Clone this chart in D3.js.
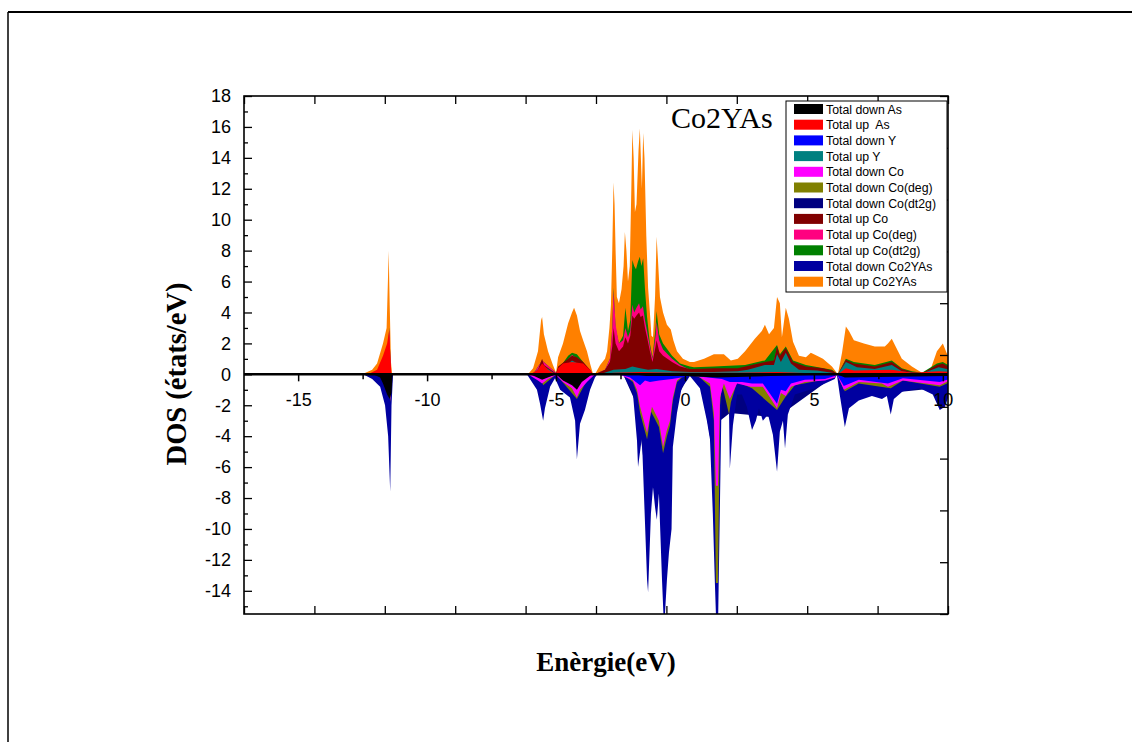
<!DOCTYPE html>
<html>
<head>
<meta charset="utf-8">
<script src="https://cdn.jsdelivr.net/npm/d3@7"></script>
<style>
  html, body { margin: 0; padding: 0; background: #fff; }
  svg { display: block; }
  .legend-text { font-family: "Liberation Sans", Arial, sans-serif; font-size: 12.3px; fill: #000; white-space: pre; }
</style>
</head>
<body>
<svg id="chart" width="1132" height="742"></svg>
<script>
// Spin-resolved partial densities of states of Co2YAs, as [energy (eV), DOS (states/eV)] pairs.

const upCo2YAs = [
  [-12.52,0],[-12.13,0.3],[-11.94,0.7],[-11.71,2.0],[-11.57,3.0],[-11.52,6.0],[-11.49,8.0],[-11.45,4.5],[-11.40,0.8],[-11.36,0],
  [-6.09,0],[-5.89,0.4],[-5.70,1.5],[-5.58,3.5],[-5.54,3.7],[-5.47,2.6],[-5.31,1.5],[-5.12,0.6],[-5.00,0.1],[-4.92,1.1],
  [-4.73,2.0],[-4.53,3.3],[-4.38,4.0],[-4.30,4.3],[-4.19,3.8],[-4.07,2.8],[-3.95,2.2],[-3.80,1.5],[-3.68,0.7],[-3.57,0.05],[-3.49,0],
  [-3.29,0.6],[-3.10,1.0],[-3.02,1.5],[-2.93,3.0],[-2.87,4.5],[-2.82,8.0],[-2.77,12.4],[-2.73,11.0],[-2.69,8.0],[-2.64,5.0],
  [-2.56,4.6],[-2.46,5.5],[-2.38,7.0],[-2.33,9.2],[-2.27,8.0],[-2.21,6.0],[-2.14,7.0],[-2.08,12.0],[-2.04,15.8],[-1.99,14.0],
  [-1.94,10.5],[-1.88,11.0],[-1.80,14.5],[-1.75,15.9],[-1.71,14.0],[-1.67,12.0],[-1.62,15.6],[-1.57,14.0],[-1.50,9.0],
  [-1.43,5.6],[-1.36,4.0],[-1.30,2.5],[-1.24,2.4],[-1.16,5.0],[-1.10,8.9],[-1.05,7.5],[-0.97,5.0],[-0.85,4.0],[-0.70,3.2],
  [-0.55,2.9],[-0.45,2.2],[-0.31,1.5],[-0.08,1.0],[0.19,0.8],[0.35,0.8],[0.74,1.0],[1.12,1.3],[1.51,1.3],[1.78,0.9],
  [2.05,1.0],[2.33,1.5],[2.71,2.3],[2.98,2.8],[3.10,3.2],[3.26,2.6],[3.45,3.0],[3.57,5.0],[3.68,4.6],[3.76,2.4],
  [3.91,4.3],[4.03,3.6],[4.19,2.1],[4.42,1.2],[4.69,1.1],[4.88,1.4],[5.12,1.2],[5.35,1.0],[5.70,0.5],[5.93,0],
  [6.09,1.4],[6.24,3.1],[6.36,2.8],[6.55,2.2],[6.94,2.0],[7.36,1.8],[7.75,1.8],[7.87,2.0],[8.02,2.3],[8.14,1.9],
  [8.41,1.0],[8.80,0.5],[9.19,0.1],[9.53,0.35],[9.77,1.5],[10.00,2.0],[10.19,1.2],[10.30,1.0]
];

const upCoDt2g = [
  [-11.55,0],[-11.47,3.05],[-11.40,0],
  [-5.89,0],[-5.54,0.9],[-5.00,0.1],[-4.53,1.2],[-4.38,1.4],[-4.19,1.3],[-3.95,0.8],[-3.57,0],
  [-3.49,0],[-3.10,0.3],[-2.91,1.0],[-2.82,3.0],[-2.77,5.6],[-2.69,3.0],[-2.56,2.0],[-2.40,2.5],[-2.31,4.3],[-2.21,2.8],
  [-2.12,3.5],[-2.08,5.5],[-2.04,7.4],[-1.97,7.0],[-1.90,6.8],[-1.82,7.3],[-1.75,7.6],[-1.69,7.0],[-1.62,7.5],[-1.55,5.5],
  [-1.47,3.7],[-1.36,2.0],[-1.26,1.1],[-1.14,3.0],[-1.10,4.1],[-1.00,2.6],[-0.85,2.0],[-0.50,1.2],[-0.19,0.7],[0.19,0.5],
  [0.35,0.45],[1.12,0.5],[2.33,0.6],[3.10,0.9],[3.57,1.9],[3.68,1.3],[3.91,1.8],[4.19,0.9],[4.69,0.6],[5.70,0.3],[5.93,0],
  [6.24,1.0],[6.55,0.8],[7.36,0.6],[8.02,0.9],[8.41,0.4],[8.80,0.2],[9.19,0.1],[9.77,0.7],[10.00,0.8],[10.30,0.5]
];

const upCoDeg = [
  [-11.55,0],[-11.47,2.95],[-11.40,0],
  [-5.89,0],[-5.54,0.9],[-5.00,0.1],[-4.38,1.25],[-3.95,0.75],[-3.57,0],
  [-3.49,0],[-3.10,0.3],[-2.91,1.0],[-2.82,3.0],[-2.77,5.4],[-2.69,3.2],[-2.56,2.0],[-2.40,2.2],[-2.31,3.0],[-2.21,2.4],
  [-2.12,2.8],[-2.04,4.5],[-1.97,4.0],[-1.88,4.3],[-1.78,4.6],[-1.72,4.2],[-1.63,4.4],[-1.55,3.5],[-1.47,2.8],[-1.36,1.8],
  [-1.26,1.0],[-1.14,2.5],[-1.10,3.4],[-1.00,2.2],[-0.85,1.6],[-0.50,1.0],[-0.19,0.6],[0.19,0.3],
  [0.35,0.3],[1.12,0.35],[2.05,0.35],[2.33,0.45],[3.10,0.75],[3.45,0.85],[3.57,1.7],[3.68,1.1],[3.91,1.6],[4.19,0.7],
  [4.69,0.45],[5.35,0.35],[5.70,0.2],[5.93,0],[6.24,0.9],[6.55,0.65],[7.36,0.45],[8.02,0.75],[8.41,0.3],[8.80,0.1],
  [9.19,0.02],[9.77,0.55],[10.00,0.65],[10.30,0.35]
];

const upCo = [
  [-12.30,0],[-11.71,0.2],[-11.49,0.5],[-11.40,0],
  [-5.89,0],[-5.70,0.3],[-5.54,1.0],[-5.47,0.6],[-5.00,0.05],[-4.92,0.5],[-4.53,1.0],[-4.38,1.2],[-4.19,1.1],[-3.95,0.8],[-3.68,0.3],[-3.57,0],
  [-3.49,0],[-3.10,0.3],[-2.91,0.8],[-2.82,1.8],[-2.77,3.0],[-2.69,2.0],[-2.56,1.5],[-2.40,1.8],[-2.31,2.4],[-2.21,2.0],
  [-2.12,2.5],[-2.04,3.8],[-1.97,3.6],[-1.88,3.8],[-1.78,4.0],[-1.72,3.7],[-1.63,3.8],[-1.55,3.0],[-1.47,2.4],[-1.36,1.5],
  [-1.26,0.8],[-1.14,1.8],[-1.10,2.2],[-1.00,1.5],[-0.85,1.2],[-0.50,0.8],[-0.19,0.5],[0.19,0.35],
  [0.35,0.35],[1.12,0.4],[2.05,0.4],[2.33,0.5],[3.10,0.8],[3.45,0.9],[3.57,1.8],[3.68,1.2],[3.91,1.7],[4.19,0.8],
  [4.69,0.5],[5.35,0.4],[5.70,0.25],[5.93,0],[6.24,0.95],[6.55,0.7],[7.36,0.5],[8.02,0.8],[8.41,0.35],[8.80,0.15],
  [9.19,0.05],[9.77,0.6],[10.00,0.7],[10.30,0.4]
];

const upY = [
  [-11.55,0],[-11.47,0.15],[-11.40,0],
  [-5.89,0],[-5.54,0.6],[-5.00,0],[-4.38,0.9],[-3.95,0.5],[-3.57,0],
  [-3.29,0],[-2.77,0.3],[-2.31,0.35],[-2.04,0.5],[-1.74,0.4],[-1.43,0.3],[-1.10,0.35],[-0.50,0.2],[0.19,0.15],
  [0.35,0.15],[1.12,0.15],[2.05,0.2],[2.44,0.3],[3.10,0.6],[3.45,0.6],[3.57,1.3],[3.72,0.8],[3.91,1.4],[4.11,0.7],
  [4.42,0.3],[5.12,0.25],[5.70,0.1],[5.93,0],[6.24,0.8],[6.67,0.45],[7.36,0.35],[8.02,0.6],[8.41,0.2],[8.80,0.1],
  [9.19,0.05],[9.84,0.45],[10.30,0.3]
];

const upAs = [
  [-12.29,0],[-11.94,0.3],[-11.71,1.2],[-11.55,2.0],[-11.47,2.85],[-11.42,1.0],[-11.38,0],
  [-6.00,0],[-5.70,0.3],[-5.54,0.7],[-5.31,0.3],[-5.00,0],[-4.92,0.4],[-4.73,0.7],[-4.38,0.8],[-3.95,0.7],[-3.68,0.3],[-3.57,0],
  [-3.29,0],[-2.77,0.1],[-1.74,0.15],[-0.50,0.1],[0.19,0.1],
  [0.35,0.1],[2.05,0.1],[3.57,0.15],[5.93,0],[6.24,0.4],[6.55,0.25],[8.02,0.3],[8.80,0.1],[9.84,0.2],[10.30,0.15]
];

const downCoDt2g = [
  [-2.40,0],[-1.86,-2.0],[-1.43,-8.0],[-1.09,-5.5],[-0.81,-9.0],[-0.47,-2.0],[0.19,0],
  [0.58,0],[1.16,-6.0],[1.24,-9.0],[1.36,-3.0],[1.74,-2.5],[3.57,-2.8],[5.89,0],[6.20,-1.5],[10.27,-0.8]
];

const downCo2YAs = [
  [-12.48,0],[-12.13,-0.3],[-11.82,-0.8],[-11.63,-2.0],[-11.51,-4.0],[-11.43,-7.6],[-11.38,-2.0],[-11.32,0],
  [-6.13,0],[-5.74,-1.0],[-5.62,-1.9],[-5.50,-3.0],[-5.43,-2.2],[-5.23,-0.8],[-5.04,-0.25],[-4.84,-1.0],[-4.46,-1.5],
  [-4.26,-3.0],[-4.19,-5.5],[-4.07,-3.2],[-3.88,-2.3],[-3.68,-1.0],[-3.49,-0.2],[-3.40,0],
  [-2.40,0],[-2.02,-1.2],[-1.86,-4.3],[-1.82,-6.0],[-1.67,-4.1],[-1.47,-13.3],[-1.43,-14.1],[-1.32,-9.0],[-1.24,-7.3],
  [-1.16,-8.6],[-1.09,-9.4],[-1.01,-7.7],[-0.89,-13.3],[-0.81,-16.5],[-0.70,-13.3],[-0.62,-11.5],[-0.52,-10.0],
  [-0.47,-4.7],[-0.31,-2.5],[-0.12,-0.8],[0.08,-0.4],[0.19,-0.1],
  [0.58,-0.9],[0.85,-3.0],[0.97,-4.2],[1.08,-9.0],[1.16,-13.5],[1.22,-16.5],[1.28,-16.5],[1.36,-8.0],[1.43,-0.5],
  [1.55,-0.8],[1.71,-2.6],[1.74,-6.1],[1.86,-3.3],[2.02,-1.3],[2.21,-1.3],[2.40,-2.1],[2.60,-3.6],[2.75,-3.0],[2.87,-2.2],
  [3.02,-3.0],[3.22,-2.6],[3.41,-3.9],[3.57,-6.3],[3.68,-3.7],[3.80,-3.0],[3.88,-4.8],[3.99,-2.6],[4.26,-1.3],[4.65,-1.1],
  [5.04,-0.9],[5.43,-0.6],[5.81,-0.3],[5.89,0],[6.01,-1.4],[6.20,-3.4],[6.36,-2.2],[6.74,-1.7],[7.25,-1.4],[7.64,-1.6],
  [7.83,-1.4],[7.98,-2.6],[8.10,-1.6],[8.45,-1.1],[9.11,-0.9],[9.61,-1.3],[9.88,-2.3],[10.08,-2.1],[10.27,-1.2]
];

const downCoDeg = [
  [-11.50,0],[-11.43,-1.8],[-11.38,0],
  [-5.62,0],[-5.50,-0.7],[-5.00,0],[-4.19,-1.6],[-3.68,0],
  [-2.40,0],[-2.02,-0.5],[-1.86,-1.2],[-1.74,-2.5],[-1.47,-4.2],[-1.43,-3.8],[-1.32,-2.4],[-1.16,-2.9],[-1.01,-3.4],
  [-0.85,-5.1],[-0.70,-4.0],[-0.58,-3.3],[-0.47,-1.7],[-0.31,-0.5],[-0.12,-0.2],[0.19,0],
  [0.58,-0.2],[0.97,-0.8],[1.12,-3.0],[1.20,-13.5],[1.28,-13.5],[1.36,-2.0],[1.43,-0.6],[1.71,-2.6],[1.78,-1.8],
  [2.02,-0.5],[2.60,-0.9],[3.57,-2.3],[3.88,-1.5],[4.26,-0.7],[5.81,-0.2],[5.89,0],[6.20,-1.1],[6.74,-0.6],[7.98,-0.9],
  [8.45,-0.4],[9.88,-0.8],[10.27,-0.5]
];

const downCo = [
  [-11.60,0],[-11.47,-0.5],[-11.43,-1.75],[-11.40,-0.5],[-11.36,0],
  [-6.09,0],[-5.70,-0.4],[-5.54,-0.6],[-5.31,-0.3],[-5.00,-0.05],[-4.73,-0.5],[-4.38,-0.9],[-4.19,-1.5],[-4.07,-1.0],[-3.80,-0.5],[-3.49,0],
  [-2.56,0],[-2.02,-0.4],[-1.86,-1.0],[-1.74,-2.1],[-1.47,-3.8],[-1.43,-3.4],[-1.28,-2.1],[-1.16,-2.5],[-1.01,-3.0],
  [-0.85,-4.7],[-0.70,-3.6],[-0.58,-3.0],[-0.47,-1.5],[-0.31,-0.4],[-0.12,-0.15],[0.19,0],
  [0.35,0],[0.58,-0.2],[0.97,-0.6],[1.12,-2.5],[1.20,-7.2],[1.28,-7.2],[1.36,-1.5],[1.51,-0.6],[1.74,-1.6],[2.02,-0.6],
  [2.55,-0.8],[3.02,-0.8],[3.57,-2.2],[3.72,-1.2],[3.91,-1.4],[4.11,-0.8],[4.65,-0.5],[5.43,-0.4],[5.81,-0.2],[5.89,0],
  [6.16,-1.0],[6.74,-0.5],[7.64,-0.6],[7.87,-0.8],[8.45,-0.4],[9.88,-0.7],[10.27,-0.4]
];

const downY = [
  [-5.80,0],[-5.54,-0.3],[-5.00,0],[-4.19,-0.4],[-3.60,0],
  [-2.56,0],[-2.13,-0.2],[-1.74,-0.7],[-1.55,-0.4],[-1.36,-0.5],[-1.00,-0.4],[-0.50,-0.3],[0.19,-0.1],
  [0.35,-0.1],[1.43,-0.3],[1.74,-0.5],[2.21,-0.5],[2.60,-0.6],[3.02,-0.6],[3.57,-1.9],[3.72,-1.0],[3.91,-1.1],[4.11,-0.6],
  [4.65,-0.35],[5.43,-0.3],[5.81,-0.1],[5.89,0],[6.16,-0.75],[6.74,-0.35],[7.87,-0.6],[8.45,-0.25],[9.88,-0.5],[10.27,-0.3]
];

const downAs = [
  [-12.10,0],[-11.82,-0.2],[-11.71,-0.6],[-11.55,-1.3],[-11.45,-1.6],[-11.38,-1.2],[-11.34,0],
  [-6.00,0],[-5.54,-0.35],[-5.00,0],[-4.73,-0.4],[-4.38,-0.7],[-4.19,-1.0],[-4.00,-0.5],[-3.60,0],
  [-2.00,0],[-1.50,-0.1],[0.00,-0.1],[1.24,-0.2],[5.89,0],[6.20,-0.2],[10.27,-0.1]
];

// Axis tick values
const yTickValues = [18,16,14,12,10,8,6,4,2,0,-2,-4,-6,-8,-10,-12,-14];
const xTickValues = [-15,-10,-5,0,5,10];
const xDomain = [-17.1, 10.2];
const yDomain = [-15.5, 18];

// Draw order: larger totals first so the partial contributions sit on top.
const series = [
  { name: "Total up Co2YAs",     data: upCo2YAs,   color: "#FF8000" },
  { name: "Total up Co(dt2g)",   data: upCoDt2g,   color: "#008000" },
  { name: "Total up Co(deg)",    data: upCoDeg,    color: "#FF0080" },
  { name: "Total up Co",         data: upCo,       color: "#800000" },
  { name: "Total up Y",          data: upY,        color: "#008080" },
  { name: "Total up  As",        data: upAs,       color: "#FF0000" },
  { name: "Total down Co(dt2g)", data: downCoDt2g, color: "#000080" },
  { name: "Total down Co2YAs",   data: downCo2YAs, color: "#0000A0" },
  { name: "Total down Co(deg)",  data: downCoDeg,  color: "#808000" },
  { name: "Total down Co",       data: downCo,     color: "#FF00FF" },
  { name: "Total down Y",        data: downY,      color: "#0000FF" },
  { name: "Total down As",       data: downAs,     color: "#000000" }
];

const legendOrder = [
  "Total down As","Total up  As","Total down Y","Total up Y","Total down Co","Total down Co(deg)",
  "Total down Co(dt2g)","Total up Co","Total up Co(deg)","Total up Co(dt2g)","Total down Co2YAs","Total up Co2YAs"
];

const svg = d3.select("#chart");
const W = 1132, H = 742;
const plot = { left: 244, right: 948, top: 96, bottom: 614 };
const plain = d => String(d);   // ASCII hyphen for negatives

// Page frame lines
svg.append("line").attr("x1", 8).attr("x2", W).attr("y1", 12).attr("y2", 12)
  .attr("stroke", "#000").attr("stroke-width", 2);
svg.append("line").attr("x1", 8).attr("x2", 8).attr("y1", 12).attr("y2", H)
  .attr("stroke", "#000").attr("stroke-width", 1.5);

const x = d3.scaleLinear().domain(xDomain).range([plot.left, plot.right]);
const y = d3.scaleLinear().domain(yDomain).range([plot.bottom, plot.top]);

svg.append("clipPath").attr("id", "plot-clip")
  .append("rect").attr("x", plot.left).attr("y", plot.top)
  .attr("width", plot.right - plot.left).attr("height", plot.bottom - plot.top);

const area = d3.area()
  .x(d => x(d[0]))
  .y0(y(0))
  .y1(d => y(d[1]))
  .curve(d3.curveLinear);

const gAreas = svg.append("g").attr("clip-path", "url(#plot-clip)");
series.forEach(s => {
  gAreas.append("path").datum(s.data).attr("d", area).attr("fill", s.color).attr("stroke", "none");
});

// Zero line acting as the energy axis
const xAxisZero = d3.axisBottom(x)
  .tickValues(d3.range(-15, 10.01, 2.5))
  .tickSize(7)
  .tickFormat(d => (xTickValues.includes(d) ? plain(d) : ""));
const gx = svg.append("g").attr("transform", `translate(0,${y(0)})`).call(xAxisZero);
gx.select(".domain").remove();
gx.selectAll(".tick line").attr("stroke", "#000").attr("stroke-width", 1.5)
  .attr("y2", d => (d % 5 === 0 ? 7 : 5));
gx.selectAll(".tick text").attr("dy", "0").attr("y", 32).attr("fill", "#000")
  .style("font-family", "Liberation Sans, Arial, sans-serif").style("font-size", "18px");
svg.append("line").attr("x1", plot.left).attr("x2", plot.right).attr("y1", y(0)).attr("y2", y(0))
  .attr("stroke", "#000").attr("stroke-width", 2.5);

// Left axis with inward ticks
const yAxis = d3.axisLeft(y).tickValues(yTickValues).tickSize(-8).tickPadding(13).tickFormat(plain);
const gy = svg.append("g").attr("transform", `translate(${plot.left},0)`).call(yAxis);
gy.select(".domain").remove();
gy.selectAll(".tick line").attr("stroke", "#000").attr("stroke-width", 1.3);
gy.selectAll(".tick text").style("font-family", "Liberation Sans, Arial, sans-serif").style("font-size", "18px").attr("fill", "#000");
const yMinor = d3.axisLeft(y).tickValues(d3.range(-15, 18, 2)).tickSize(-4).tickFormat("");
const gym = svg.append("g").attr("transform", `translate(${plot.left},0)`).call(yMinor);
gym.select(".domain").remove();
gym.selectAll(".tick line").attr("stroke", "#000").attr("stroke-width", 1.3);

// Frame axes (top, bottom, right) with evenly spaced inward ticks
const xFrame = d3.scaleLinear().domain([0, 10]).range([plot.left, plot.right]);
const yFrame = d3.scaleLinear().domain([0, 10]).range([plot.bottom, plot.top]);
const gTop = svg.append("g").attr("transform", `translate(0,${plot.top})`)
  .call(d3.axisTop(xFrame).ticks(10).tickSize(-8).tickFormat(""));
const gBot = svg.append("g").attr("transform", `translate(0,${plot.bottom})`)
  .call(d3.axisBottom(xFrame).ticks(10).tickSize(-8).tickFormat(""));
const gRight = svg.append("g").attr("transform", `translate(${plot.right},0)`)
  .call(d3.axisRight(yFrame).ticks(10).tickSize(-8).tickFormat(""));
[gTop, gBot, gRight].forEach(g => {
  g.select(".domain").remove();
  g.selectAll(".tick line").attr("stroke", "#000").attr("stroke-width", 1.3);
});

svg.append("rect").attr("x", plot.left).attr("y", plot.top)
  .attr("width", plot.right - plot.left).attr("height", plot.bottom - plot.top)
  .attr("fill", "none").attr("stroke", "#000").attr("stroke-width", 1.6);

// Compound name
svg.append("text").attr("x", 671).attr("y", 128)
  .style("font-family", "Liberation Serif, Times New Roman, serif").style("font-size", "30px")
  .text("Co2YAs");

// Axis titles
svg.append("text").attr("x", 606).attr("y", 671).attr("text-anchor", "middle")
  .style("font-family", "Liberation Serif, Times New Roman, serif").style("font-size", "27px").style("font-weight", "bold")
  .text("Enèrgie(eV)");
svg.append("text").attr("transform", "translate(186,374) rotate(-90)").attr("text-anchor", "middle")
  .style("font-family", "Liberation Serif, Times New Roman, serif").style("font-size", "28.5px").style("font-weight", "bold")
  .text("DOS (états/eV)");

// Legend
const lg = { x: 786, y: 101, w: 161, h: 191, row: 15.7 };
const gLeg = svg.append("g");
gLeg.append("rect").attr("x", lg.x).attr("y", lg.y).attr("width", lg.w).attr("height", lg.h)
  .attr("fill", "#fff").attr("stroke", "#000").attr("stroke-width", 1);
const colorByName = new Map(series.map(s => [s.name, s.color]));
legendOrder.forEach((name, i) => {
  const cy = lg.y + 8 + i * lg.row;
  gLeg.append("rect").attr("x", lg.x + 8).attr("y", cy - 5).attr("width", 29).attr("height", 10)
    .attr("fill", colorByName.get(name));
  gLeg.append("text").attr("class", "legend-text").attr("x", lg.x + 40).attr("y", cy + 4.5).text(name);
});
</script>
</body>
</html>
